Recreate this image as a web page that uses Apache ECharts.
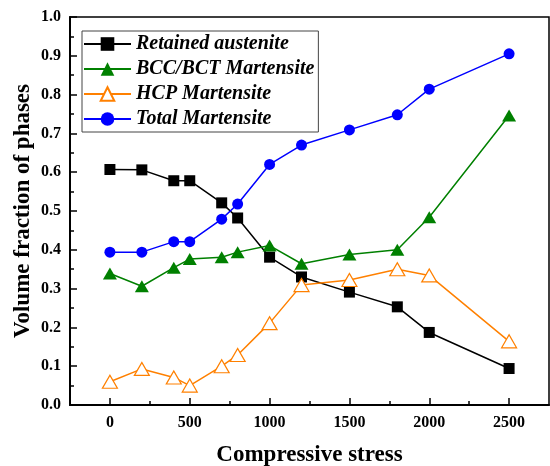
<!DOCTYPE html>
<html>
<head>
<meta charset="utf-8">
<title>Volume fraction of phases</title>
<script src="https://cdn.jsdelivr.net/npm/echarts@6/dist/echarts.min.js"></script>
<style>
  html, body { margin: 0; padding: 0; background: #fff; }
</style>
</head>
<body>
<div id="main" style="width:550px;height:466px;"></div>
<script>
// compressive stress values (x)
var stress = [0, 200, 400, 500, 700, 800, 1000, 1200, 1500, 1800, 2000, 2500];
// volume fractions
var retained = [0.607, 0.606, 0.578, 0.578, 0.521, 0.482, 0.381, 0.330, 0.291, 0.253, 0.187, 0.094];
var bcc = [0.339, 0.306, 0.354, 0.376, 0.381, 0.394, 0.411, 0.364, 0.388, 0.400, 0.484, 0.746];
var hcp = [0.060, 0.093, 0.071, 0.050, 0.100, 0.129, 0.211, 0.309, 0.322, 0.350, 0.334, 0.164];
var total = [0.394, 0.394, 0.421, 0.421, 0.479, 0.518, 0.620, 0.670, 0.709, 0.748, 0.814, 0.905];

var seriesNames = ['Retained austenite', 'BCC/BCT Martensite', 'HCP Martensite', 'Total Martensite'];
var xMajor = [0, 500, 1000, 1500, 2000, 2500];
var xMinor = [250, 750, 1250, 1750, 2250];

var font = '"Liberation Serif", "Times New Roman", serif';

function pairs(ys) {
    return stress.map(function (x, i) { return [x, ys[i]]; });
}

var chart = echarts.init(document.getElementById('main'));

chart.setOption({
    animation: false,
    grid: {
        left: 70, right: 1, top: 17, bottom: 61,
        outerBoundsMode: 'none',
        show: true, borderColor: '#000', borderWidth: 1.5
    },
    legend: {
        orient: 'vertical',
        left: 82, top: 31,
        data: seriesNames,
        borderColor: '#444', borderWidth: 1,
        padding: [3, 4, 3, 1],
        itemWidth: 47, itemHeight: 17, itemGap: 5,
        textStyle: {
            fontFamily: font, fontStyle: 'italic', fontWeight: 'bold',
            fontSize: 20, color: '#000', lineHeight: 20
        }
    },
    xAxis: [{
        type: 'value',
        min: -250, max: 2750, interval: 250,
        name: 'Compressive stress',
        nameLocation: 'middle', nameGap: 39,
        nameTextStyle: { fontFamily: font, fontWeight: 'bold', fontSize: 23, color: '#000' },
        axisLine: { onZero: false, lineStyle: { color: '#000', width: 2 } },
        axisTick: { inside: true, length: 7, customValues: xMajor, lineStyle: { color: '#000', width: 1.5 } },
        axisLabel: {
            customValues: xMajor, margin: 10, fontFamily: font, fontWeight: 'bold', fontSize: 16, color: '#000',
            formatter: function (v) { return String(v); }
        },
        splitLine: { show: false }
    }, {
        type: 'value',
        position: 'bottom',
        min: -250, max: 2750, interval: 250,
        axisLine: { show: false, onZero: false },
        axisTick: { inside: true, length: 4, customValues: xMinor, lineStyle: { color: '#000', width: 1.5 } },
        axisLabel: { show: false },
        splitLine: { show: false }
    }],
    yAxis: {
        type: 'value',
        min: 0, max: 1, interval: 0.1,
        name: 'Volume fraction of phases',
        nameLocation: 'middle', nameGap: 35,
        nameMoveOverlap: false,
        nameTextStyle: { fontFamily: font, fontWeight: 'bold', fontSize: 23, color: '#000' },
        axisLine: { show: true, onZero: false, lineStyle: { color: '#000', width: 2 } },
        axisTick: { inside: true, length: 7, lineStyle: { color: '#000', width: 1.5 } },
        minorTick: { show: true, splitNumber: 2, length: 4, lineStyle: { color: '#000', width: 1.5 } },
        axisLabel: {
            margin: 9, fontFamily: font, fontWeight: 'bold', fontSize: 16, color: '#000',
            formatter: function (v) { return v.toFixed(1); }
        },
        splitLine: { show: false }
    },
    series: [{
        name: seriesNames[0], type: 'line', data: pairs(retained),
        symbol: 'rect', symbolSize: 11,
        lineStyle: { color: '#000', width: 1.5 },
        itemStyle: { color: '#000' }
    }, {
        name: seriesNames[1], type: 'line', data: pairs(bcc),
        symbol: 'triangle', symbolSize: [14, 12],
        lineStyle: { color: '#008000', width: 1.5 },
        itemStyle: { color: '#008000' }
    }, {
        name: seriesNames[2], type: 'line', data: pairs(hcp),
        symbol: 'triangle', symbolSize: [15, 13],
        lineStyle: { color: '#ff8000', width: 1.5 },
        itemStyle: { color: '#fff', borderColor: '#ff8000', borderWidth: 1.2 }
    }, {
        name: seriesNames[3], type: 'line', data: pairs(total),
        symbol: 'circle', symbolSize: 11,
        lineStyle: { color: '#0000ff', width: 1.5 },
        itemStyle: { color: '#0000ff' }
    }]
});
</script>
</body>
</html>
